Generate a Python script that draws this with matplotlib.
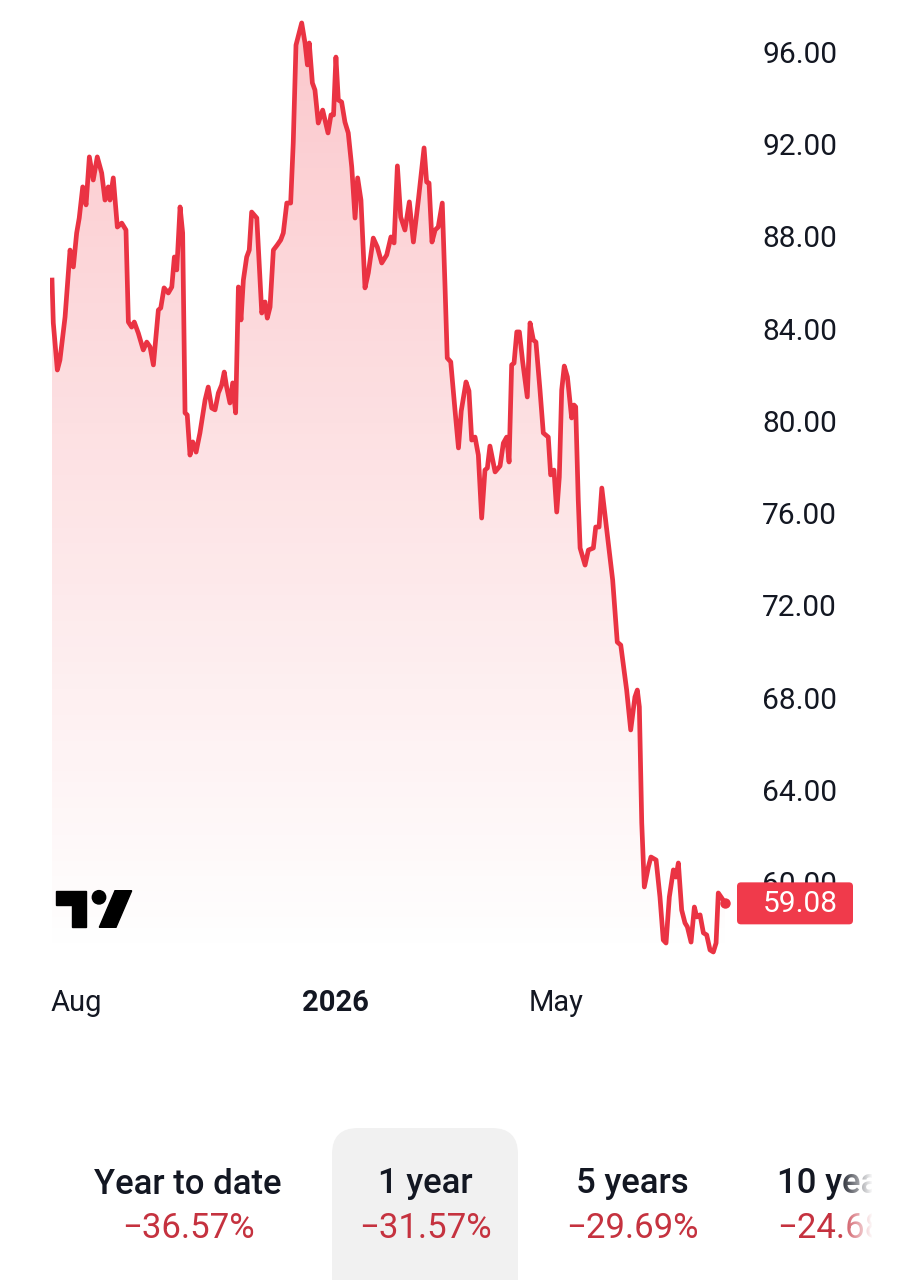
import matplotlib.pyplot as plt
import numpy as np
from matplotlib.patches import FancyBboxPatch, Rectangle, Polygon, Circle

# price history, one year (day index from start of window)
days = [0, 0.7, 2.9, 4.3, 7.1, 9.8, 11.6, 13.4, 14.8, 16.7, 18.5, 20.3, 22.4, 24.6,
        27.0, 28.8, 30.6, 31.5, 33.3, 35.5, 37.9, 40.2, 41.5, 43.3, 44.7, 46.9,
        49.6, 51.5, 53.3, 55.1, 57.8, 59.1, 60.9, 63.2, 65.1, 66.5, 67.8, 69.6,
        71.0, 72.3, 73.5, 75.0, 76.5, 78.3, 80.4, 83.2, 84.9, 86.8, 88.6, 90.4,
        92.2, 93.6, 94.9, 96.7, 98.2, 99.8, 101.3, 102.7, 104.0, 105.8, 107.2,
        108.5, 111.3, 114.0, 115.8, 117.0, 118.5, 120.3, 122.4, 124.3, 125.7,
        127.6, 129.7, 131.1, 132.6, 135.7, 137.5, 138.8, 139.8, 141.5, 142.9,
        144.7, 147.1, 150.0, 151.6, 153.0, 154.3, 155.6, 157.4, 159.2, 161.0,
        162.9, 164.7, 166.1, 167.9, 170.1, 171.9, 174.6, 176.8, 179.2, 181.9,
        184.2, 185.9, 187.7, 189.5, 191.8, 194.2, 196.4, 199.1, 202.2, 203.6,
        204.9, 206.5, 208.2, 209.9, 212.1, 213.6, 214.8, 216.7, 219.0, 220.9,
        222.4, 225.0, 226.6, 228.1, 229.9, 231.7, 233.5, 235.3, 236.6, 238.0,
        240.8, 243.5, 245.3, 247.1, 248.4, 249.8, 251.1, 252.6, 254.0, 255.8,
        258.3, 259.8, 261.6, 263.0, 265.2, 267.0, 269.7, 271.0, 272.8, 274.3,
        275.7, 277.0, 278.4, 280.1, 282.4, 283.7, 284.6, 286.0, 287.0, 289.7,
        291.5, 294.2, 295.5, 297.3, 298.8, 301.5, 304.7, 307.2, 309.1, 312.3,
        314.5, 316.8, 318.1, 319.2, 320.5, 321.9, 324.1, 325.5, 328.3, 330.4,
        332.2, 333.7, 335.5, 337.7, 339.1, 340.4, 342.2, 344.0, 345.3, 347.3,
        349.1, 350.4, 352.2, 354.0, 355.8, 357.6, 359.4, 360.9, 362.1, 364.0,
        365.8]
prices = [86.11, 84.25, 82.21, 82.64, 84.51, 87.41, 86.68, 88.15, 88.80, 90.15,
          89.37, 91.45, 90.45, 91.45, 90.75, 89.58, 90.15, 89.58, 90.54, 88.41,
          88.58, 88.28, 84.29, 84.07, 84.29, 83.81, 83.08, 83.42, 83.21, 82.43,
          84.81, 84.90, 85.77, 85.55, 85.81, 87.11, 86.55, 89.28, 88.15, 80.35,
          80.26, 78.52, 79.09, 78.65, 79.48, 80.91, 81.47, 80.56, 80.48, 81.21,
          81.56, 82.12, 81.47, 80.78, 81.65, 80.35, 85.81, 84.38, 86.11, 87.11,
          87.41, 89.06, 88.80, 84.68, 85.16, 84.46, 84.94, 87.41, 87.63, 87.85,
          88.15, 89.45, 89.45, 92.05, 96.30, 97.26, 96.39, 95.44, 96.39, 94.66,
          94.35, 92.92, 93.48, 92.49, 93.27, 93.27, 95.78, 93.92, 93.83, 92.96,
          92.49, 91.01, 88.80, 90.54, 89.58, 85.77, 86.42, 87.93, 87.54, 86.85,
          87.20, 87.98, 87.72, 91.06, 88.84, 88.28, 89.50, 87.76, 89.58, 91.84,
          90.36, 90.32, 87.76, 88.28, 88.41, 89.45, 85.81, 82.73, 82.56, 80.48,
          78.83, 80.43, 81.69, 81.30, 79.17, 79.30, 78.52, 75.79, 77.87, 77.96,
          78.91, 77.79, 78.05, 79.04, 79.30, 78.22, 82.43, 82.51, 83.86, 83.86,
          82.56, 81.04, 84.25, 83.51, 83.42, 81.34, 79.48, 79.30, 77.66, 77.87,
          76.05, 77.57, 81.34, 82.38, 81.91, 80.13, 80.69, 80.61, 76.57, 74.49,
          73.75, 74.40, 74.49, 75.40, 75.40, 77.09, 75.27, 73.10, 70.41, 70.28,
          68.33, 66.60, 68.03, 68.33, 67.60, 62.57, 59.79, 60.66, 61.09, 60.96,
          59.36, 57.49, 57.36, 59.36, 60.53, 60.22, 60.83, 58.79, 58.23, 58.06,
          57.40, 58.92, 58.49, 58.58, 57.80, 57.71, 57.06, 56.97, 57.36, 59.53,
          59.31, 59.08]

y_ticks = [60, 64, 68, 72, 76, 80, 84, 88, 92, 96]
x_tick_pos = [13.0, 154.3, 273.9]
x_tick_labels = ['Aug', '2026', 'May']

periods = ['Year to date', '1 year', '5 years', '10 years']
changes = ['\u221236.57%', '\u221231.57%', '\u221229.69%', '\u221224.68%']
period_x = [188, 425, 632, 843]

RED = '#ea3343'
TXT = '#131722'

plt.rcParams['font.family'] = ['Roboto', 'DejaVu Sans']

W, H = 919, 1280
fig = plt.figure(figsize=(W / 100, H / 100), dpi=100)
fig.patch.set_facecolor('white')

ax = fig.add_axes([50 / W, 1 - 958 / H, 690 / W, 958 / H])
ax.set_xlim(-1.09, 373.9)
ax.set_ylim(56.71, 98.255)

# gradient area under the line
poly = ax.fill_between(days, prices, 56.71, facecolor='none', edgecolor='none')
grad = np.zeros((256, 2, 4))
grad[..., 0] = 242 / 255
grad[..., 1] = 54 / 255
grad[..., 2] = 69 / 255
grad[..., 3] = np.linspace(0.28, 0.0, 256)[:, None]
img = ax.imshow(grad, extent=[-1.09, 373.9, 56.71, 98.255], aspect='auto',
                origin='upper', zorder=1)
img.set_clip_path(poly.get_paths()[0], transform=ax.transData)

ax.plot(days, prices, color=RED, lw=3.4, solid_joinstyle='round', zorder=3)
ax.plot(days[-1], prices[-1], 'o', color=RED, ms=6.5, zorder=4)

for s in ax.spines.values():
    s.set_visible(False)
ax.yaxis.tick_right()
ax.set_yticks(y_ticks)
ax.set_yticklabels([f'{v:.2f}' for v in y_ticks])
ax.tick_params(axis='y', length=0, pad=16, labelsize=21.5, labelcolor=TXT)
ax.set_xticks(x_tick_pos)
ax.set_xticklabels(x_tick_labels)
ax.tick_params(axis='x', length=0, pad=22, labelsize=21, labelcolor=TXT)
ax.get_xticklabels()[1].set_fontweight('bold')

# overlay in pixel coordinates for logo, price tag and period table
ov = fig.add_axes([0, 0, 1, 1], zorder=5)
ov.set_xlim(0, W)
ov.set_ylim(H, 0)
ov.axis('off')

# TradingView logo
ov.add_patch(Polygon([[56, 890.7], [86, 890.7], [86, 927.3], [71.7, 927.3],
                      [71.7, 905], [56, 905]], closed=True, color='black'))
ov.add_patch(Circle((99, 897.3), 6.7, color='black'))
ov.add_patch(Polygon([[115, 890.7], [131.7, 890.7], [116, 927.3], [99.3, 927.3]],
                     closed=True, color='black'))

# last price tag
fig.canvas.draw()
py = H - ax.transData.transform((0, prices[-1]))[1]
ov.add_patch(FancyBboxPatch((737, py - 21), 116, 42,
                            boxstyle='round,pad=0,rounding_size=4',
                            fc='#f03a4b', ec='none'))
ov.text(800, py + 1, f'{prices[-1]:.2f}', color='white', fontsize=21.5,
        ha='center', va='center')

# period selector
ov.add_patch(FancyBboxPatch((332, 1128), 186, 200,
                            boxstyle='round,pad=0,rounding_size=26',
                            fc='#f1f1f1', ec='none'))
clip = Rectangle((0, 1100), 872, 200, transform=ov.transData)
for name, chg, x in zip(periods, changes, period_x):
    t1 = ov.text(x, 1184, name, color=TXT, fontsize=25, fontweight='medium',
                 ha='center', va='center', clip_on=True)
    t2 = ov.text(x, 1228, chg, color='#c5323f', fontsize=25,
                 ha='center', va='center', clip_on=True)
    t1.set_clip_path(clip)
    t2.set_clip_path(clip)

fade = np.ones((2, 64, 4))
fade[..., 3] = np.linspace(0, 1, 64)[None, :]
ov.imshow(fade, extent=[838, 873, 1260, 1150], aspect='auto', zorder=6)
ov.set_xlim(0, W)
ov.set_ylim(H, 0)

fig.savefig('out.png', dpi=100)
